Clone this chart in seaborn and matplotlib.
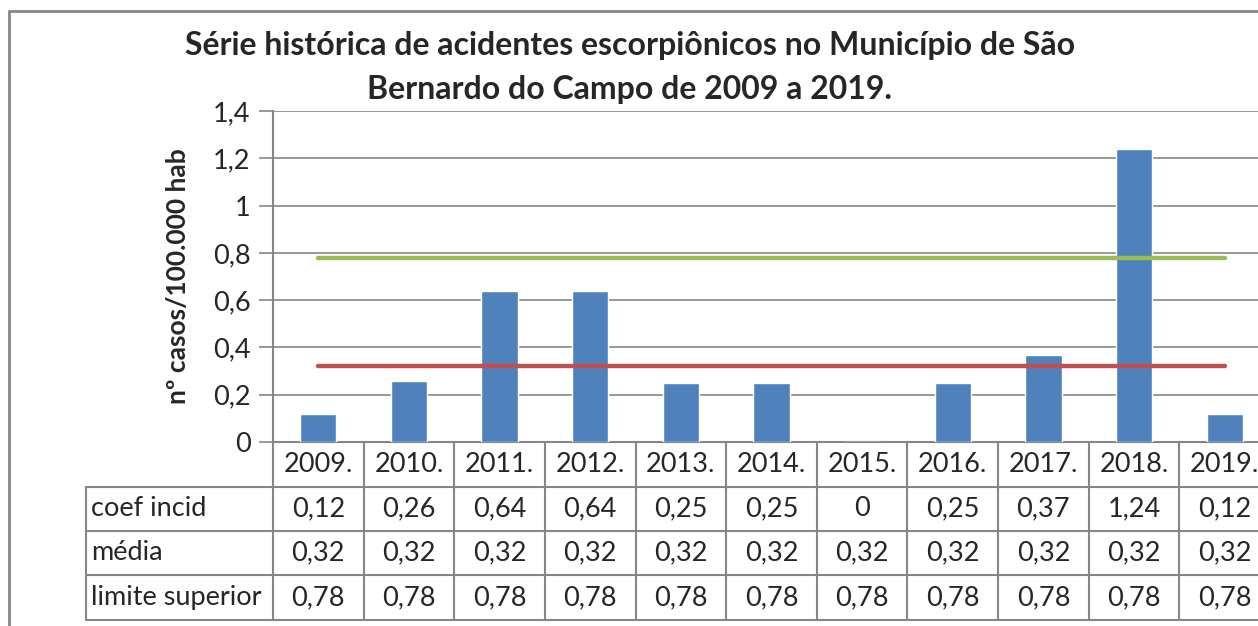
import numpy as np
import matplotlib
matplotlib.use("Agg")
import matplotlib.pyplot as plt
import seaborn as sns
from matplotlib.patches import Rectangle
from matplotlib.ticker import FuncFormatter
import matplotlib.transforms as mtransforms

# Dados
anos = ['2009.', '2010.', '2011.', '2012.', '2013.', '2014.', '2015.', '2016.', '2017.', '2018.', '2019.']
coef_incid = [0.12, 0.26, 0.64, 0.64, 0.25, 0.25, 0, 0.25, 0.37, 1.24, 0.12]
media = [0.32, 0.32, 0.32, 0.32, 0.32, 0.32, 0.32, 0.32, 0.32, 0.32, 0.32]
limite_superior = [0.78, 0.78, 0.78, 0.78, 0.78, 0.78, 0.78, 0.78, 0.78, 0.78, 0.78]
nomes_linhas = ['coef incid', 'média', 'limite superior']

titulo_l1 = 'Série histórica de acidentes escorpiônicos no Município de São'
titulo_l2 = 'Bernardo do Campo de 2009 a 2019.'
rotulo_y = 'nº casos/100.000 hab'

sns.set_style('white')
plt.rcParams['font.family'] = ['Lato', 'DejaVu Sans']

W, H = 1258, 626
fig = plt.figure(figsize=(W / 100, H / 100), dpi=100)

# area do grafico em pixels (a ultima coluna sai da imagem)
x0, x1 = 273, 1270
y_top, y_zero = 111, 442
ax = fig.add_axes([x0 / W, (H - y_zero) / H, (x1 - x0) / W, (y_zero - y_top) / H])

cinza = '#868686'
tam = 19.5

sns.barplot(x=anos, y=coef_incid, color='#4F81BD', width=0.4, saturation=1, ax=ax, zorder=3)
ax.plot(anos, media, color='#C0504D', lw=3.2, solid_capstyle='round', zorder=4)
ax.plot(anos, limite_superior, color='#9BBB59', lw=3.2, solid_capstyle='round', zorder=4)

ax.set_xlim(-0.5, len(anos) - 0.5)
ax.set_ylim(0, 1.4)
ax.set_yticks(np.arange(0, 1.41, 0.2))
ax.yaxis.set_major_formatter(FuncFormatter(lambda v, p: f'{v:g}'.replace('.', ',')))
ax.tick_params(axis='y', length=10, width=1.2, color=cinza, labelsize=tam, pad=6, left=True)
ax.set_xticks([])
ax.set_xlabel('')
ax.grid(axis='y', color=cinza, lw=1.2, zorder=0)
ax.set_axisbelow(True)
for lado in ['top', 'right']:
    ax.spines[lado].set_visible(False)
ax.spines['left'].set_color(cinza)
ax.spines['left'].set_linewidth(1.5)
ax.spines['bottom'].set_color(cinza)
ax.spines['bottom'].set_linewidth(1.5)

ax.set_ylabel(rotulo_y, fontsize=19, fontweight='bold', labelpad=17)

fy = lambda py: (H - py) / H

# titulo em duas linhas
fig.text(630 / W, fy(46), titulo_l1, ha='center', va='center', fontsize=23, fontweight='bold')
fig.text(630 / W, fy(89), titulo_l2, ha='center', va='center', fontsize=23, fontweight='bold')

# tabela de dados
linhas_px = [442, 487, 531, 575, 620]
trans = mtransforms.blended_transform_factory(ax.transData, fig.transFigure)
kw = dict(color=cinza, lw=1.5, clip_on=False, zorder=5)

# linhas verticais das colunas
for i in range(len(anos) + 1):
    ax.plot([i - 0.5, i - 0.5], [fy(linhas_px[0]), fy(linhas_px[-1])], transform=trans, **kw)
# linhas horizontais
for py in linhas_px[1:]:
    fig.add_artist(plt.Line2D([86 / W, 1.1], [fy(py), fy(py)], transform=fig.transFigure, color=cinza, lw=1.5))
fig.add_artist(plt.Line2D([86 / W, 86 / W], [fy(linhas_px[1]), fy(linhas_px[-1])], transform=fig.transFigure, color=cinza, lw=1.5))

def fmt(v):
    return '0' if v == 0 else f'{v:.2f}'.replace('.', ',')

for i, ano in enumerate(anos):
    ax.text(i, fy((linhas_px[0] + linhas_px[1]) / 2), ano, transform=trans, ha='center', va='center', fontsize=tam)
for r, (nome, serie) in enumerate(zip(nomes_linhas, [coef_incid, media, limite_superior])):
    yc = fy((linhas_px[r + 1] + linhas_px[r + 2]) / 2)
    fig.text(91 / W, yc, nome, ha='left', va='center', fontsize=tam)
    for i, v in enumerate(serie):
        ax.text(i, yc, fmt(v), transform=trans, ha='center', va='center', fontsize=tam)

# moldura do grafico
fig.add_artist(Rectangle((9 / W, -0.1), 1.2, (H - 11) / H + 0.1, transform=fig.transFigure,
                         fill=False, edgecolor=cinza, lw=2))

fig.savefig('out.png', dpi=100)
